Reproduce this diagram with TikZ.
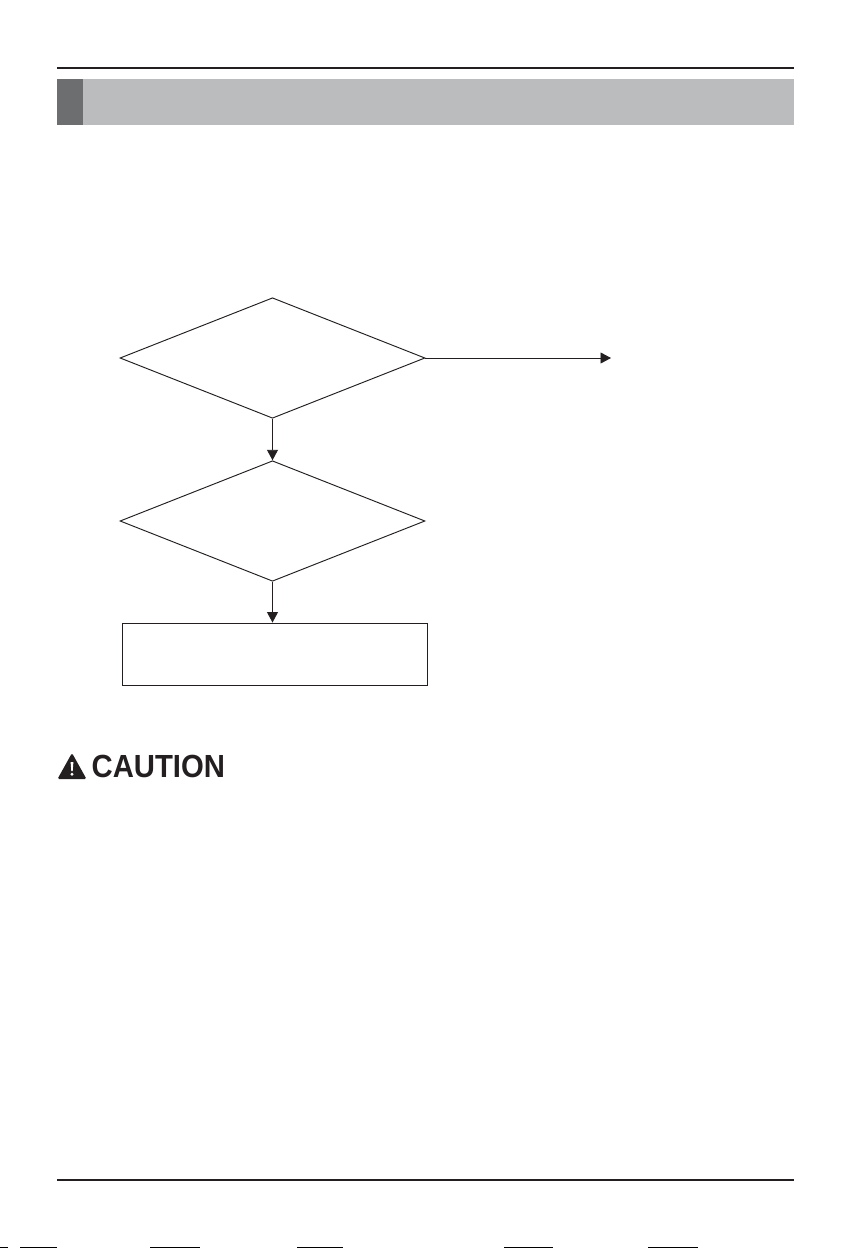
\documentclass[tikz,border=0pt]{standalone}
\usepackage{fontspec}
\setmainfont{Liberation Sans}
\usetikzlibrary{shapes.geometric,arrows.meta}
\definecolor{inkline}{HTML}{231F20}
\definecolor{bandgrey}{HTML}{BBBCBE}
\definecolor{tabgrey}{HTML}{6D6E70}
\tikzset{
  flowline/.style={draw=inkline,line width=0.95pt},
  arrowline/.style={flowline,-{Triangle[length=10.5pt,width=11pt,inkline]}},
  decision/.style={diamond,draw=inkline,line width=0.95pt,minimum width=305pt,minimum height=120.5pt,inner sep=0pt,aspect=2.53,fill=white},
  process/.style={rectangle,draw=inkline,line width=0.95pt,minimum width=305pt,minimum height=62pt,inner sep=0pt,fill=white},
  rule/.style={draw=inkline,line width=2pt},
  edgemark/.style={draw=black,line width=1pt}
}
\begin{document}
\begin{tikzpicture}[x=1pt,y=-1pt]
\useasboundingbox (0,0) rectangle (851,1248);
\fill[white] (0,0) rectangle (851,1248);
% header
\draw[rule] (57,68) -- (794,68);
\fill[bandgrey] (57,79) rectangle (794,125);
\fill[tabgrey] (57,79) rectangle (83,125);
% footer
\draw[rule] (57,1180) -- (794,1180);
% scan marks along the lower edge
\foreach \a/\b in {0/8,20/57,150/200,297/343,504/553,648/698}
  \draw[edgemark] (\a,1247.5) -- (\b,1247.5);
% flow
\node[decision] (d1) at (272.5,358) {};
\node[decision] (d2) at (272.5,521) {};
\node[process] (p1) at (275,654) {};
\coordinate (out) at (611,358);
\draw[arrowline] (d1.east) -- (d1.east -| out);
\draw[arrowline] (d1.south) -- (d2.north);
\draw[arrowline] (d2.south) -- (d2.south |- p1.north);
% caution
\fill[inkline,rounded corners=1.5pt] (72,753) -- (86.5,779) -- (57.5,779) -- cycle;
\fill[white] (70.6,762) -- (73.4,762) -- (72.7,771) -- (71.3,771) -- cycle;
\fill[white] (72,774.2) circle (1.6);
\node[anchor=base west,inner sep=0pt,font=\bfseries\fontsize{32}{32}\selectfont,text=inkline,xscale=0.915,transform shape] (caution) at (91.5,777.5) {CAUTION};
\end{tikzpicture}
\end{document}
